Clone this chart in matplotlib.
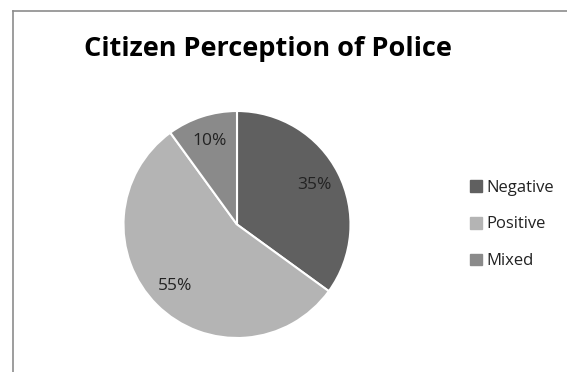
import matplotlib
matplotlib.use("Agg")
import matplotlib.pyplot as plt
import matplotlib.patches as mpatches
from matplotlib.lines import Line2D

# data
labels = ["Negative", "Positive", "Mixed"]
shares = [35, 55, 10]
colors = ["#606060", "#b4b4b4", "#8a8a8a"]

W, H = 567, 372
fig = plt.figure(figsize=(W / 100, H / 100), dpi=100)
fig.patch.set_facecolor("white")

# chart frame (only top and left edges visible)
fig.add_artist(Line2D([12.5 / W, 1], [1 - 10.5 / H, 1 - 10.5 / H], color="#8c8c8c", lw=1.2))
fig.add_artist(Line2D([12.5 / W, 12.5 / W], [0, 1 - 10.5 / H], color="#8c8c8c", lw=1.2))

fig.text(268 / W, 1 - 49 / H, "Citizen Perception of Police", ha="center", va="center",
         fontsize=19.5, fontweight="bold", family="Open Sans", color="black")

cx, cy, r = 237, 224.5, 113.5
ax = fig.add_axes([(cx - r) / W, 1 - (cy + r) / H, 2 * r / W, 2 * r / H])
wedges, texts, autotexts = ax.pie(
    shares, colors=colors, startangle=90, counterclock=False,
    autopct="%d%%", pctdistance=0.77,
    wedgeprops=dict(edgecolor="white", linewidth=1.5),
    textprops=dict(fontsize=12.5, color="#222222", family="Open Sans"))
ax.set_aspect("equal")
ax.set_xlim(-1.0, 1.0)
ax.set_ylim(-1.0, 1.0)

handles = [mpatches.Patch(color=c, label=l) for c, l in zip(colors, labels)]
leg = fig.legend(handles=handles, loc="center left", bbox_to_anchor=(455 / W, 1 - 224.5 / H),
                 frameon=False, handlelength=0.7, handleheight=0.7,
                 handletextpad=0.3, labelspacing=1.25, labelcolor="#222222",
                 prop=dict(family="Open Sans", size=12))

fig.savefig("out.png", dpi=100, facecolor="white")
